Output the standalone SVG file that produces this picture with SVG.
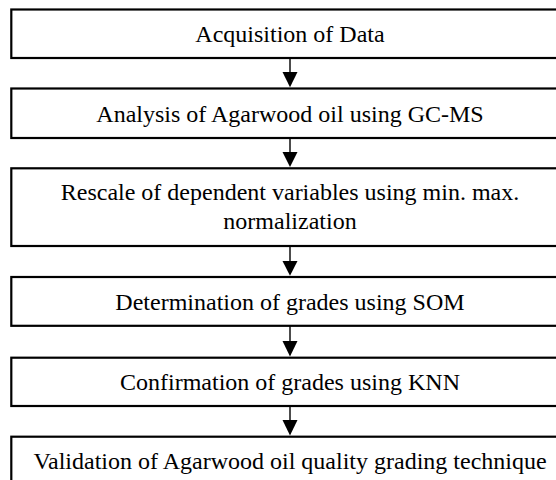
<svg xmlns="http://www.w3.org/2000/svg" width="556" height="480" viewBox="0 0 556 480">
<style>
.box{fill:#fff;stroke:#000;stroke-width:2.2}
.t{font-family:"Liberation Serif","Times New Roman",serif;font-size:24px;fill:#000;text-anchor:middle}
.c{stroke:#000;stroke-width:1.4;fill:none}
.h{fill:#000;stroke:none}
</style>
<rect width="556" height="480" fill="#fff"/>
<g id="n1"><rect class="box" x="11.3" y="9.5" width="560" height="48.5"/><text class="t" x="290" y="42">Acquisition of Data</text></g>
<g id="n2"><rect class="box" x="11.3" y="88.5" width="560" height="49.5"/><text class="t" x="290" y="121.5">Analysis of Agarwood oil using GC-MS</text></g>
<g id="n3"><rect class="box" x="11.3" y="168.3" width="560" height="77.7"/><text class="t" x="290" y="200">Rescale of dependent variables using min. max.</text><text class="t" x="290" y="229">normalization</text></g>
<g id="n4"><rect class="box" x="11.3" y="277" width="560" height="48.8"/><text class="t" x="290" y="309.5">Determination of grades using SOM</text></g>
<g id="n5"><rect class="box" x="11.3" y="357.7" width="560" height="48.3"/><text class="t" x="290" y="390">Confirmation of grades using KNN</text></g>
<g id="n6"><rect class="box" x="11.3" y="436.7" width="560" height="60"/><text class="t" x="290" y="469">Validation of Agarwood oil quality grading technique</text></g>
<g id="connectors">
<line class="c" x1="290" y1="58" x2="290" y2="73"/><polygon class="h" points="282.5,72 297.5,72 290,87.3"/>
<line class="c" x1="290" y1="138" x2="290" y2="153"/><polygon class="h" points="282.5,152 297.5,152 290,167.1"/>
<line class="c" x1="290" y1="246" x2="290" y2="262"/><polygon class="h" points="282.5,261 297.5,261 290,275.8"/>
<line class="c" x1="290" y1="325.8" x2="290" y2="342"/><polygon class="h" points="282.5,341 297.5,341 290,356.5"/>
<line class="c" x1="290" y1="406" x2="290" y2="421"/><polygon class="h" points="282.5,420 297.5,420 290,435.5"/>
</g>
</svg>
